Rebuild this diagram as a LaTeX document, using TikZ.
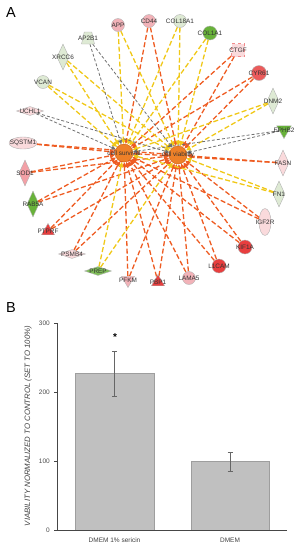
\documentclass[tikz,border=0pt]{standalone}
\usepackage{fontspec}
\setmainfont{Liberation Sans}
\usetikzlibrary{shapes.geometric,arrows.meta,backgrounds}
\definecolor{edgeorange}{RGB}{238,92,34}
\definecolor{edgeyellow}{RGB}{240,200,24}
\definecolor{edgegray}{RGB}{112,112,112}
\definecolor{hubfill}{RGB}{238,128,40}
\definecolor{hubdraw}{RGB}{205,95,20}
\definecolor{genered}{RGB}{232,62,62}
\definecolor{genepink}{RGB}{242,178,184}
\definecolor{genelpink}{RGB}{250,218,220}
\definecolor{genegreen}{RGB}{104,178,58}
\definecolor{genelgreen}{RGB}{222,234,212}
\definecolor{barfill}{RGB}{192,192,192}
\definecolor{bardraw}{RGB}{158,158,158}
\definecolor{axisgray}{RGB}{70,70,70}
\tikzset{
  gene/.style   ={draw=black!30, line width=0.4pt, inner sep=0pt},
  gcirc/.style  ={gene, circle, minimum size=13pt},
  vdiam/.style  ={gene, diamond, minimum width=12pt, minimum height=26pt},
  hdiam/.style  ={gene, diamond, minimum width=27pt, minimum height=9pt},
  tri/.style    ={gene, regular polygon, regular polygon sides=3, minimum size=15pt},
  itri/.style   ={tri, shape border rotate=180},
  trap/.style   ={gene, trapezium, inner sep=2pt, trapezium stretches=true, minimum width=13pt, minimum height=12pt, trapezium left angle=70, trapezium right angle=70},
  hub/.style    ={circle, draw=hubdraw, fill=hubfill, minimum size=18pt, inner sep=0pt},
  glbl/.style   ={font=\fontsize{6.4}{7}\selectfont, text=black!80, inner sep=0pt},
  ticklbl/.style={font=\fontsize{6.5}{7}\selectfont, text=black!70, anchor=east, inner sep=0pt},
  panel/.style  ={font=\fontsize{14.5}{15}\selectfont, inner sep=0pt},
  eorange/.style={draw=edgeorange, line width=1.3pt, dash pattern=on 5pt off 2.5pt, -{Triangle[length=5pt,width=5pt]}},
  eyellow/.style={draw=edgeyellow, line width=1.3pt, dash pattern=on 5pt off 2.5pt, -{Triangle[length=5pt,width=5pt]}},
  egray/.style  ={draw=edgegray, line width=0.8pt, dash pattern=on 3pt off 2pt, -{Triangle[length=4pt,width=4pt]}},
}

\begin{document}
\begin{tikzpicture}[x=1pt, y=-1pt]
\useasboundingbox (0,0) rectangle (301,550);
% --- panel letters ---
\node[panel] (pa) at (11,13) {A};
\node[panel] (pb) at (11,308) {B};
% --- hubs ---
\node[hub] (cs) at (124,153) {};
\node[hub] (cv) at (178,155) {};
% --- genes, clockwise from APP ---
\node[gcirc, fill=genepink]   (app)    at (118,25)  {};
\node[gcirc, fill=genepink]   (cd44)   at (149,21)  {};
\node[gcirc, fill=genelgreen] (col18)  at (180,21)  {};
\node[gcirc, fill=genegreen, minimum size=14pt] (col1) at (210,33) {};
\node[gene, rectangle, draw=genered!60, dashed, fill=genelpink, minimum size=13pt] (ctgf) at (238,50) {};
\node[gcirc, fill=genered!85, minimum size=15pt] (cyr61) at (259,73) {};
\node[vdiam, fill=genelgreen] (dnm2)   at (273,101) {};
\node[itri,  fill=genegreen, minimum size=17pt] (ephb2) at (284,130) {};
\node[vdiam, fill=genelpink]  (fasn)   at (283,163) {};
\node[vdiam, fill=genelgreen] (fn1)    at (279,194) {};
\node[gene, ellipse, fill=genelpink, minimum width=12pt, minimum height=27pt] (igf2r) at (265,222) {};
\node[gcirc, fill=genered, minimum size=14pt] (kif1a) at (245,247) {};
\node[gcirc, fill=genered, minimum size=14pt] (l1cam) at (219,266) {};
\node[gcirc, fill=genepink]   (lama5)  at (189,278) {};
\node[tri,   fill=genered]    (pbp1)   at (158,282) {};
\node[itri,  fill=genepink]   (pfkm)   at (128,280) {};
\node[hdiam, fill=genegreen!85] (prep) at (98,271)  {};
\node[hdiam, fill=genelpink]  (psmb4)  at (72,254)  {};
\node[tri,   fill=genered]    (ptprf)  at (48,231)  {};
\node[vdiam, fill=genegreen]  (rab5a)  at (33,204)  {};
\node[vdiam, fill=genepink!90!red] (sod1) at (25,173) {};
\node[gene, ellipse, fill=genelpink, minimum width=28pt, minimum height=12pt] (sqstm1) at (23,143) {};
\node[hdiam, fill=genelpink]  (uchl1)  at (30,111)  {};
\node[gcirc, fill=genelgreen] (vcan)   at (43,82)   {};
\node[vdiam, fill=genelgreen] (xrcc6)  at (63,57)   {};
\node[trap,  fill=genelgreen] (ap2b1)  at (88,38)   {};
% --- edges ---
\begin{scope}[on background layer]
\foreach \g in {cd44,ctgf,cyr61,fasn,igf2r,kif1a,l1cam,lama5,pbp1,pfkm,psmb4,ptprf,rab5a,sod1,sqstm1}
  {\draw[eorange] (\g) -- (cs); \draw[eorange] (\g) -- (cv);}
\foreach \g in {app,col18,col1,dnm2,fn1,prep,vcan,xrcc6}
  {\draw[eyellow] (\g) -- (cs); \draw[eyellow] (\g) -- (cv);}
\foreach \g in {ap2b1,ephb2,uchl1}
  {\draw[egray] (\g) -- (cs); \draw[egray] (\g) -- (cv);}
\end{scope}
% --- labels ---
\foreach \n/\t in {app/APP,cd44/CD44,col18/COL18A1,col1/COL1A1,ctgf/CTGF,cyr61/CYR61,dnm2/DNM2,ephb2/EPHB2,fasn/FASN,fn1/FN1,igf2r/IGF2R,kif1a/KIF1A,l1cam/L1CAM,lama5/LAMA5,pbp1/PBP1,pfkm/PFKM,prep/PREP,psmb4/PSMB4,ptprf/PTPRF,rab5a/RAB5A,sod1/SOD1,sqstm1/SQSTM1,uchl1/UCHL1,vcan/VCAN,xrcc6/XRCC6,ap2b1/AP2B1,cs/cell survival,cv/cell viability}
  {\node[glbl] (\n-l) at (\n) {\t};}
% --- panel B: bar chart ---
\fill[barfill, draw=bardraw, line width=0.8pt] (75,373) rectangle (154,530);
\fill[barfill, draw=bardraw, line width=0.8pt] (191,461) rectangle (269,530);
\draw[axisgray, line width=0.7pt] (57,323) -- (57,530) -- (287,530);
\foreach \v/\y in {0/530,100/461,200/392,300/323}
  {\draw[axisgray, line width=0.7pt] (54,\y) -- (57,\y);
   \node[ticklbl] (t\v) at (50,\y) {\v};}
\draw[black!60, line width=0.8pt] (114.5,351) -- (114.5,396) (112,351) -- (117,351) (112,396) -- (117,396);
\draw[black!60, line width=0.8pt] (230,452) -- (230,471) (227.5,452) -- (232.5,452) (227.5,471) -- (232.5,471);
\node[font=\fontsize{10}{10}\selectfont\bfseries] (star) at (115,337) {*};
\node[font=\fontsize{6.5}{7}\selectfont, text=black!75] (x1) at (114.5,540) {DMEM 1\% sericin};
\node[font=\fontsize{6.5}{7}\selectfont, text=black!75] (x2) at (230,540) {DMEM};
\node[font=\fontsize{7.8}{8}\selectfont\itshape, text=black!75, rotate=90] (ylab) at (28,426) {VIABILITY NORMALIZED TO CONTROL (SET TO 100\%)};
\end{tikzpicture}
\end{document}
